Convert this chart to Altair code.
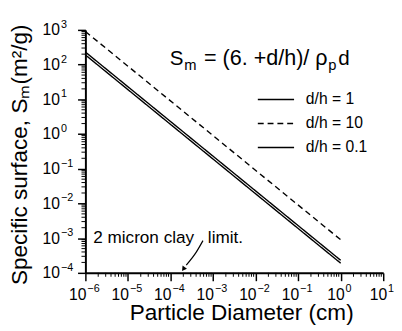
import altair as alt
import pandas as pd

FONT = "Liberation Sans"

series = ["d/h = 1", "d/h = 10", "d/h = 0.1"]
diam = [1e-6, 1e0]
s_dh1 = [230, 2.3e-4]
s_dh10 = [900, 9.0e-4]
s_dh01 = [190, 1.9e-4]

x_major = [1e-6, 1e-5, 1e-4, 1e-3, 1e-2, 1e-1, 1e0, 1e1]
x_exp = ["−6", "−5", "−4", "−3", "−2", "−1", "0", "1"]
y_major = [1e-4, 1e-3, 1e-2, 1e-1, 1e0, 1e1, 1e2, 1e3]
y_exp = ["−4", "−3", "−2", "−1", "0", "1", "2", "3"]
x_minor = [k * 10.0 ** e for e in range(-6, 1) for k in range(2, 10)]
y_minor = [k * 10.0 ** e for e in range(-4, 3) for k in range(2, 10)]

arrow_x = [5.8e-4, 4.0e-4, 2.35e-4]
arrow_y = [8.5e-4, 3.9e-4, 1.68e-4]
arrow_tip_x = [2.06e-4]
arrow_tip_y = [1.34e-4]

rows = []
for name, vals in zip(series, [s_dh1, s_dh10, s_dh01]):
    for d, s in zip(diam, vals):
        rows.append({"d": d, "s": s, "series": name})
df = pd.DataFrame(rows)

xscale = alt.Scale(type="log", domain=[1e-6, 1e1], nice=False)
yscale = alt.Scale(type="log", domain=[1e-4, 1e3], nice=False)
dash_scale = alt.Scale(domain=series, range=[[1, 0], [6, 4], [1, 0]])

xaxis = alt.Axis(values=x_major, labels=False, grid=False,
                 tickSize=8, tickWidth=1.5, tickColor="black",
                 domainColor="black", domainWidth=2,
                 title="Particle Diameter (cm)", titleFont=FONT,
                 titleFontSize=23, titleFontWeight="normal", titleColor="black",
                 titleX=159, titleY=48, titleBaseline="alphabetic")
yaxis = alt.Axis(values=y_major, labels=False, grid=False,
                 tickSize=8, tickWidth=1.5, tickColor="black",
                 domainColor="black", domainWidth=2,
                 title="Specific surface, Sₘ(m²/g)", titleFont=FONT,
                 titleFontSize=23, titleFontWeight="normal", titleColor="black",
                 titleX=-60, titleY=127, titleAngle=270, titleBaseline="alphabetic",
                 titleAlign="center")

lines = alt.Chart(df).mark_line(color="black", strokeWidth=1.4).encode(
    x=alt.X("d:Q", scale=xscale, axis=xaxis),
    y=alt.Y("s:Q", scale=yscale, axis=yaxis),
    strokeDash=alt.StrokeDash("series:N", scale=dash_scale, legend=None),
    detail="series:N",
)

xminor = alt.Chart(pd.DataFrame({"v": x_minor})).mark_rule(
    color="black", strokeWidth=1).encode(
    x=alt.X("v:Q", scale=xscale), y=alt.value(248), y2=alt.value(252))
yminor = alt.Chart(pd.DataFrame({"v": y_minor})).mark_rule(
    color="black", strokeWidth=1).encode(
    y=alt.Y("v:Q", scale=yscale), x=alt.value(0), x2=alt.value(-4))

# tick labels: base "10" plus a raised exponent
xl = pd.DataFrame({"v": x_major, "e": x_exp})
xl_neg = xl[xl["v"] < 1]
xl_pos = xl[xl["v"] >= 1]
def xbase(d, dx):
    return alt.Chart(d).mark_text(font=FONT, fontSize=16, align="right",
                                  baseline="alphabetic", color="black", dx=dx).encode(
        x=alt.X("v:Q", scale=xscale), y=alt.value(276), text=alt.value("10"))
def xsup(d, dx):
    return alt.Chart(d).mark_text(font=FONT, fontSize=11, align="left",
                                  baseline="alphabetic", color="black", dx=dx).encode(
        x=alt.X("v:Q", scale=xscale), y=alt.value(268), text="e:N")
yl = pd.DataFrame({"v": y_major, "e": y_exp})
ybase = alt.Chart(yl).mark_text(font=FONT, fontSize=16, align="right",
                                baseline="alphabetic", color="black", dy=5.5).encode(
    y=alt.Y("v:Q", scale=yscale), x=alt.value(-26), text=alt.value("10"))
ysup = alt.Chart(yl).mark_text(font=FONT, fontSize=11, align="left",
                               baseline="alphabetic", color="black", dy=-2).encode(
    y=alt.Y("v:Q", scale=yscale), x=alt.value(-25), text="e:N")

arrow = alt.Chart(pd.DataFrame({"x": arrow_x, "y": arrow_y, "o": [0, 1, 2]})).mark_line(
    color="black", strokeWidth=1.2, interpolate="monotone").encode(
    x=alt.X("x:Q", scale=xscale), y=alt.Y("y:Q", scale=yscale), order="o:Q")
tip = alt.Chart(pd.DataFrame({"x": arrow_tip_x, "y": arrow_tip_y})).mark_point(
    shape="triangle", filled=True, color="black", size=30, angle=216, opacity=1).encode(
    x=alt.X("x:Q", scale=xscale), y=alt.Y("y:Q", scale=yscale))

def txt(s, x, y, size):
    return alt.Chart(pd.DataFrame({"t": [s]})).mark_text(
        font=FONT, fontSize=size, align="left", baseline="alphabetic",
        color="black").encode(text="t:N", x=alt.value(x), y=alt.value(y))

# legend, drawn by hand: one row per series
legend_layers = []
for i, name in enumerate(series):
    row = pd.DataFrame({"series": [name]})
    yy = 71 + i * 24.5
    legend_layers.append(alt.Chart(row).mark_rule(color="black", strokeWidth=1.4).encode(
        x=alt.value(176), x2=alt.value(213), y=alt.value(yy),
        strokeDash=alt.StrokeDash("series:N", scale=dash_scale, legend=None)))
    legend_layers.append(alt.Chart(row).mark_text(
        font=FONT, fontSize=16, align="left", baseline="middle", color="black").encode(
        text="series:N", x=alt.value(225), y=alt.value(yy)))

eq = [txt("S", 86, 36, 21), txt("m", 101, 41, 15),
      txt("= (6. +d/h)/ ρ", 121, 36, 22), txt("p", 248, 41, 15),
      txt("d", 258, 36, 21)]
notes = [txt("2 micron clay", 8, 218, 17.5), txt("limit.", 125, 218, 17.5)]

chart = alt.layer(lines, xminor, yminor,
                  xbase(xl_neg, 1), xsup(xl_neg, 2), xbase(xl_pos, 4), xsup(xl_pos, 5),
                  ybase, ysup, arrow, tip, *legend_layers, *eq, *notes).properties(
    width=304, height=248,
    autosize=alt.AutoSizeParams(type="none"),
    padding={"left": 79, "top": 19, "right": 11, "bottom": 56},
).configure_view(stroke=None)

chart.save("out.html", embed_options={"renderer": "svg", "actions": False})
